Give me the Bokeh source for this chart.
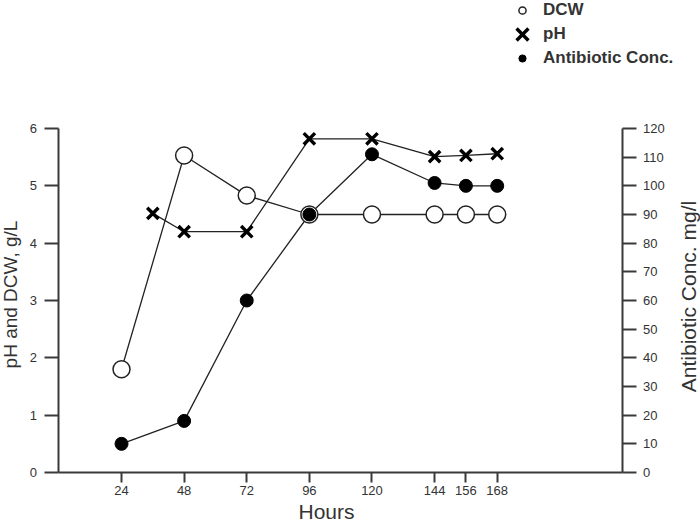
import math
from bokeh.plotting import figure
from bokeh.models import (Range1d, LinearAxis, FixedTicker, Legend, LegendItem, Label)
from bokeh.embed import file_html
from bokeh.resources import INLINE

# ---- data ----
hours_dcw = [24, 48, 72, 96, 120, 144, 156, 168]
dcw = [1.8, 5.53, 4.83, 4.5, 4.5, 4.5, 4.5, 4.5]

hours_ph = [36, 48, 72, 96, 120, 144, 156, 168]
ph = [4.52, 4.2, 4.2, 5.82, 5.82, 5.51, 5.53, 5.56]

hours_ab = [24, 48, 72, 96, 120, 144, 156, 168]
antibiotic = [10, 18, 60, 90, 111, 101, 100, 100]

x_ticks = [24, 48, 72, 96, 120, 144, 156, 168]
left_ticks = [0, 1, 2, 3, 4, 5, 6]
right_ticks = [0, 10, 20, 30, 40, 50, 60, 70, 80, 90, 100, 110, 120]

FONT = "Liberation Sans"
TXT = "#333333"
AX = "#3a3a3a"

W, H = 700, 524
# pixel geometry of the axes box inside the canvas
X0_PX, KX = 58.4, 2.609          # px of hour 0, px per hour
Y0_PX, KY = 472.0, 57.333        # px of value 0 (from top), px per unit
X_END = 216.2                    # hour value where the right axis sits

x_rng = Range1d(-X0_PX / KX, (W - X0_PX) / KX)
y_rng = Range1d(-(H - Y0_PX) / KY, Y0_PX / KY)

p = figure(width=W, height=H, x_range=x_rng, y_range=y_rng,
           output_backend="svg", toolbar_location=None,
           min_border_left=0, min_border_right=0, min_border_top=0, min_border_bottom=0)
p.title.visible = False
p.grid.visible = False
p.outline_line_color = None
p.background_fill_color = "white"
p.border_fill_color = "white"
p.xaxis.visible = False
p.yaxis.visible = False

p.extra_y_ranges = {"ab": Range1d(y_rng.start * 20, y_rng.end * 20)}

xax = LinearAxis(ticker=FixedTicker(ticks=x_ticks), fixed_location=0, bounds=(0, X_END))
lax = LinearAxis(ticker=FixedTicker(ticks=left_ticks), fixed_location=0, bounds=(0, 6))
rax = LinearAxis(y_range_name="ab", ticker=FixedTicker(ticks=right_ticks),
                 fixed_location=X_END, bounds=(0, 120))
p.add_layout(xax, "below")
p.add_layout(lax, "left")
p.add_layout(rax, "right")

for ax in (xax, lax, rax):
    ax.axis_line_color = AX
    ax.axis_line_width = 2
    ax.major_tick_line_color = AX
    ax.major_tick_line_width = 2
    ax.minor_tick_line_color = None
    ax.major_tick_in = 0
    ax.major_label_text_font = FONT
    ax.major_label_text_font_size = "13px"
    ax.major_label_text_color = TXT

xax.major_tick_out = 10
xax.major_label_standoff = 3
lax.major_tick_out = 14
lax.major_label_standoff = 8
rax.major_tick_out = 14
rax.major_label_standoff = 6

LC = "#222222"
# lines
p.line(hours_dcw, dcw, line_color=LC, line_width=1.3)
p.line(hours_ph, ph, line_color=LC, line_width=1.3)
p.line(hours_ab, antibiotic, line_color=LC, line_width=1.3, y_range_name="ab")

# markers
r_dcw = p.scatter(hours_dcw, dcw, marker="circle", size=17, fill_color="white",
                  line_color=LC, line_width=1.5)
r_ab = p.scatter(hours_ab, antibiotic, marker="circle", size=13, fill_color="black",
                 line_color="black", line_width=1, y_range_name="ab")
r_ph = p.scatter(hours_ph, ph, marker="x", size=16, line_color="black", line_width=3.4)

# legend (three single-item legends so each marker gets its own size)
def make_legend(label, rend, loc, gw, gh, standoff):
    lg = Legend(items=[LegendItem(label=label, renderers=[rend])], location=loc,
                glyph_width=gw, glyph_height=gh, label_height=gh, label_standoff=standoff,
                padding=0, margin=0, spacing=0, border_line_color=None,
                background_fill_alpha=0, label_text_font=FONT, label_text_font_size="17px",
                label_text_font_style="bold", label_text_color=TXT)
    p.add_layout(lg)

make_legend("DCW", r_dcw, (513, 504), 18, 20, 12)
make_legend("pH", r_ph, (501, 469), 42, 42, 0)
make_legend("Antibiotic Conc.", r_ab, (513, 456), 18, 20, 12)

# axis titles
p.add_layout(Label(x=326, y=13, x_units="screen", y_units="screen", text="Hours",
                   text_font=FONT, text_font_size="21px", text_color=TXT,
                   text_align="center", text_baseline="middle"))
p.add_layout(Label(x=10, y=230, x_units="screen", y_units="screen", text="pH and DCW, g/L",
                   angle=math.pi / 2, text_font=FONT, text_font_size="19px", text_color=TXT,
                   text_align="center", text_baseline="middle"))
p.add_layout(Label(x=688, y=228, x_units="screen", y_units="screen",
                   text="Antibiotic Conc. mg/l", angle=math.pi / 2, text_font=FONT,
                   text_font_size="21px", text_color=TXT,
                   text_align="center", text_baseline="middle"))

open("out.html", "w").write(file_html(p, INLINE))
